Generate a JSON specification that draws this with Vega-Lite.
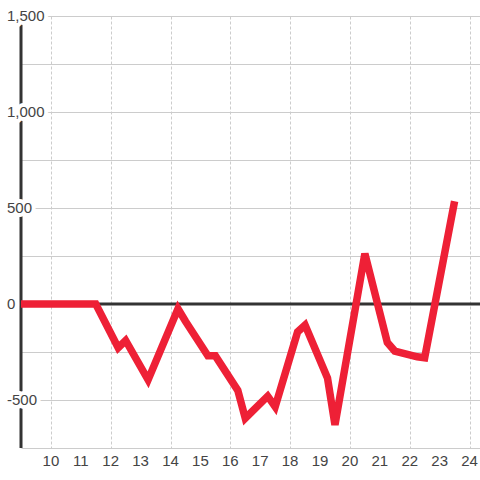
{
  "$schema": "https://vega.github.io/schema/vega-lite/v6.json",
  "width": 459,
  "height": 432,
  "autosize": "none",
  "padding": {"left": 21, "top": 16, "right": 0, "bottom": 32},
  "background": "white",
  "config": {
    "view": {"stroke": null},
    "font": "Liberation Sans",
    "axisX": {"labels": false, "ticks": false, "domain": false, "gridDash": [3, 2], "gridColor": "#cccccc", "title": null},
    "axisY": {"labels": false, "ticks": false, "domain": false, "gridColor": "#cccccc", "title": null}
  },
  "datasets": {
    "series": [
      {"t": 9, "v": 0},
      {"t": 11.5, "v": 0},
      {"t": 12.25, "v": -228},
      {"t": 12.5, "v": -190},
      {"t": 13.25, "v": -395},
      {"t": 14.25, "v": -25},
      {"t": 14.5, "v": -90},
      {"t": 15.25, "v": -270},
      {"t": 15.5, "v": -270},
      {"t": 16.25, "v": -450},
      {"t": 16.5, "v": -595},
      {"t": 17.25, "v": -480},
      {"t": 17.5, "v": -535},
      {"t": 18.25, "v": -145},
      {"t": 18.5, "v": -110},
      {"t": 19.25, "v": -385},
      {"t": 19.5, "v": -630},
      {"t": 20.5, "v": 262},
      {"t": 21.25, "v": -200},
      {"t": 21.5, "v": -245},
      {"t": 22.25, "v": -275},
      {"t": 22.5, "v": -280},
      {"t": 23.5, "v": 535}
    ],
    "ylabels": [
      {"v": -500, "l": "-500"},
      {"v": 0, "l": "0"},
      {"v": 500, "l": "500"},
      {"v": 1000, "l": "1,000"},
      {"v": 1500, "l": "1,500"}
    ],
    "xlabels": [
      {"t": 10}, {"t": 11}, {"t": 12}, {"t": 13}, {"t": 14}, {"t": 15}, {"t": 16}, {"t": 17},
      {"t": 18}, {"t": 19}, {"t": 20}, {"t": 21}, {"t": 22}, {"t": 23}, {"t": 24}
    ],
    "zero": [{"v": 0}]
  },
  "layer": [
    {
      "data": {"name": "series"},
      "mark": {"type": "line", "opacity": 0},
      "encoding": {
        "x": {
          "field": "t", "type": "quantitative",
          "scale": {"domain": [9, 24.35], "nice": false, "zero": false},
          "axis": {"values": [10, 11, 12, 13, 14, 15, 16, 17, 18, 19, 20, 21, 22, 23, 24], "grid": true}
        },
        "y": {
          "field": "v", "type": "quantitative",
          "scale": {"domain": [-750, 1500], "nice": false, "zero": false},
          "axis": {"values": [-750, -500, -250, 0, 250, 500, 750, 1000, 1250, 1500], "grid": true}
        }
      }
    },
    {
      "data": {"name": "zero"},
      "mark": {"type": "rule", "color": "#333333", "strokeWidth": 3},
      "encoding": {
        "y": {"field": "v", "type": "quantitative"},
        "x": {"datum": 9},
        "x2": {"datum": 24.35}
      }
    },
    {
      "data": {"name": "zero"},
      "mark": {"type": "rule", "color": "#333333", "strokeWidth": 3},
      "encoding": {
        "x": {"datum": 9},
        "y": {"datum": -750},
        "y2": {"datum": 1500}
      }
    },
    {
      "data": {"name": "ylabels"},
      "mark": {"type": "text", "align": "left", "baseline": "middle", "dx": -14, "fontSize": 15, "font": "Liberation Sans", "fill": "#ffffff", "stroke": "#ffffff", "strokeWidth": 8, "strokeJoin": "round"},
      "encoding": {
        "x": {"datum": 9},
        "y": {"field": "v", "type": "quantitative"},
        "text": {"field": "l"}
      }
    },
    {
      "data": {"name": "ylabels"},
      "mark": {"type": "text", "align": "left", "baseline": "middle", "dx": -14, "fontSize": 15, "font": "Liberation Sans", "fill": "#444444"},
      "encoding": {
        "x": {"datum": 9},
        "y": {"field": "v", "type": "quantitative"},
        "text": {"field": "l"}
      }
    },
    {
      "data": {"name": "xlabels"},
      "mark": {"type": "text", "align": "center", "baseline": "middle", "dy": 13, "fontSize": 15, "font": "Liberation Sans", "fill": "#444444"},
      "encoding": {
        "x": {"field": "t", "type": "quantitative"},
        "y": {"datum": -750},
        "text": {"field": "t", "type": "quantitative"}
      }
    },
    {
      "data": {"name": "series"},
      "mark": {"type": "line", "color": "#ee2036", "strokeWidth": 7.5, "strokeJoin": "miter", "strokeCap": "butt"},
      "encoding": {
        "x": {"field": "t", "type": "quantitative"},
        "y": {"field": "v", "type": "quantitative"}
      }
    }
  ]
}
